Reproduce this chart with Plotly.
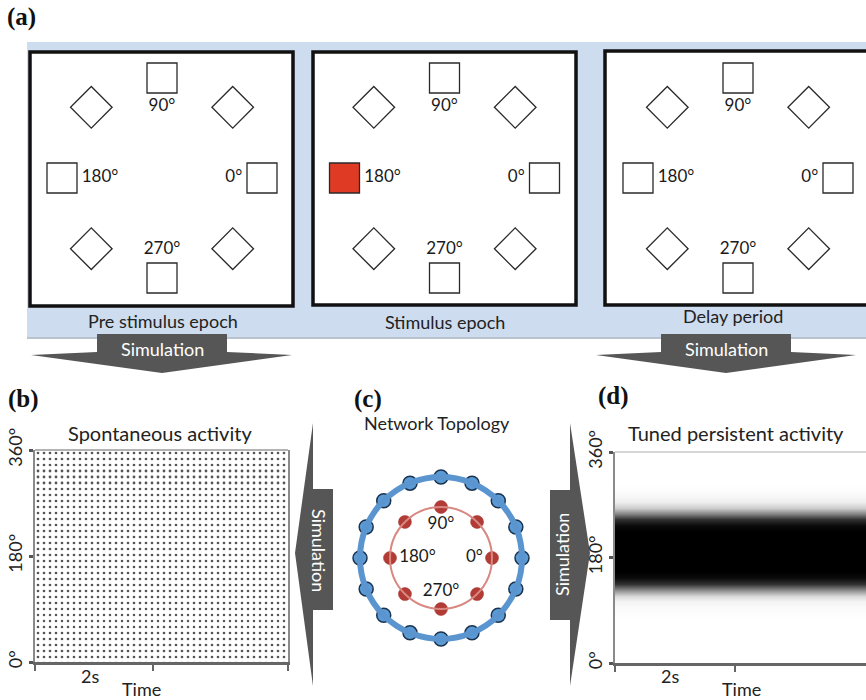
import plotly.graph_objects as go

# ---------------- data ----------------
target_angles = [0, 45, 90, 135, 180, 225, 270, 315]
target_symbols = ["square", "diamond", "square", "diamond", "square", "diamond", "square", "diamond"]
target_labels = ["0°", "", "90°", "", "180°", "", "270°", ""]
stimulus_angle = 180
epoch_titles = ["Pre stimulus epoch", "Stimulus epoch", "Delay period"]

outer_node_angles = [0, 22.5, 45, 67.5, 90, 112.5, 135, 157.5, 180, 202.5, 225, 247.5, 270, 292.5, 315, 337.5]
inner_node_angles = [0, 45, 90, 135, 180, 225, 270, 315]
inner_node_labels = ["0°", "", "90°", "", "180°", "", "270°", ""]

# raster densities (fraction of neurons firing per angle bin)
spont_bin_centers = [15, 45, 75, 105, 135, 165, 195, 225, 255, 285, 315, 345]
spont_density = [0.16, 0.15, 0.14, 0.15, 0.16, 0.15, 0.16, 0.16, 0.15, 0.16, 0.17, 0.16]

persist_bin_centers = list(range(5, 360, 10))
persist_density = [0, 0, 0, 0, 0, 0, 0, 0, 0.01, 0.02,
                   0.05, 0.15, 0.45, 0.8, 0.95, 1, 1, 1, 1, 1,
                   1, 1, 1, 0.95, 0.8, 0.5, 0.2, 0.07, 0.03, 0.01,
                   0, 0, 0, 0, 0, 0]
time_span_b = [0, 4.29]
time_span_d = [0, 4.18]
y_tick_vals = [0, 180, 360]
y_tick_text = ["0°", "180°", "360°"]
x_tick_vals_b = [0, 2, 4.29]
x_tick_vals_d = [0, 2]

# ---------------- helpers ----------------
W, H = 866, 700
def fx(x):
    return x / W
def fy(y):
    return 1 - y / H

FONT = "Lato, 'Open Sans', sans-serif"
SERIF = "'Liberation Serif', 'DejaVu Serif', serif"

fig = go.Figure()
shapes = []
annotations = []

def rect(x0, y0, x1, y1, fill, lc=None, lw=0, layer="below"):
    shapes.append(dict(type="rect", xref="paper", yref="paper",
                       x0=fx(x0), x1=fx(x1), y0=fy(y1), y1=fy(y0),
                       fillcolor=fill, line=dict(color=lc or fill, width=lw), layer=layer))

def path(points, fill, layer="below"):
    d = "M " + " L ".join(f"{fx(x):.5f},{fy(y):.5f}" for x, y in points) + " Z"
    shapes.append(dict(type="path", xref="paper", yref="paper", path=d,
                       fillcolor=fill, line=dict(width=0), layer=layer))

def text(x, y, s, size=16, color="#222", font=FONT, angle=0):
    annotations.append(dict(x=fx(x), y=fy(y), xref="paper", yref="paper", text=s,
                            showarrow=False, textangle=angle,
                            font=dict(size=size, color=color, family=font),
                            xanchor="center", yanchor="middle"))

# ---------------- panel (a) ----------------
rect(27, 42, 880, 337, "#cddcee")
rect(27, 337, 880, 339, "#b9c3cd")
boxes = [(30, 52, 293, 306), (313, 52, 576, 305), (605, 51, 880, 305)]
for b in boxes:
    rect(*b, "white", "#111", 3.5)

centers = [(162, 178), (444.5, 178), (738, 178)]
R = 100
label_pos = {"0°": "middle left", "90°": "bottom center", "180°": "middle right", "270°": "top center", "": "middle center"}
for i, (cx, cy) in enumerate(centers):
    name = "polar" if i == 0 else f"polar{i+1}"
    fig.add_trace(go.Scatterpolar(
        r=[1] * len(target_angles), theta=target_angles, mode="markers+text",
        marker=dict(symbol=target_symbols,
                    size=[30 if s == "square" else 32 for s in target_symbols],
                    color=["#df3b24" if (i == 1 and a == stimulus_angle) else "white" for a in target_angles],
                    opacity=1,
                    line=dict(color="#2a2a2a", width=1.3)),
        text=target_labels, textposition=[label_pos[l] for l in target_labels],
        textfont=dict(size=17, color="#1a1a1a", family=FONT),
        cliponaxis=False, showlegend=False, hoverinfo="skip", subplot=name))
    fig.update_layout(**{name: dict(
        domain=dict(x=[fx(cx - R), fx(cx + R)], y=[fy(cy + R), fy(cy - R)]),
        bgcolor="rgba(0,0,0,0)",
        radialaxis=dict(visible=False, range=[0, 1]),
        angularaxis=dict(visible=False))})

text(163, 321, epoch_titles[0], 18)
text(445, 322, epoch_titles[1], 18)
text(733, 316, epoch_titles[2], 18)

# down arrows "Simulation"
ARROW = "#565656"
for (r0, r1, w0, w1, ax) in [(97, 227, 31, 292, 162), (661, 791, 596, 856, 726)]:
    path([(r0, 334), (r1, 334), (r1, 352), (w1, 355), (ax, 373), (w0, 355), (r0, 352)], ARROW)
    text(ax, 349, "Simulation", 18, "white")

# ---------------- panel (b): spontaneous raster (dot texture by density) ----------------
fig.add_trace(go.Bar(
    orientation="h", y=spont_bin_centers, x=[time_span_b[1]] * len(spont_bin_centers),
    base=time_span_b[0], width=30,
    marker=dict(color="white", line=dict(width=0),
                pattern=dict(shape=".", fgcolor="#555555", bgcolor="white", size=6,
                             solidity=spont_density, fillmode="replace")),
    showlegend=False, hoverinfo="skip", xaxis="x", yaxis="y"))
# ---------------- panel (d): tuned persistent raster ----------------
fig.add_trace(go.Heatmap(
    z=[[d, d] for d in persist_density], x=time_span_d, y=persist_bin_centers,
    colorscale=[[0, "white"], [1, "black"]], zmin=0, zmax=1, zsmooth="best",
    showscale=False, hoverinfo="skip", xaxis="x2", yaxis="y2"))

yax = dict(range=[0, 360], tickvals=y_tick_vals, ticktext=y_tick_text, tickangle=-90,
           tickfont=dict(size=18, color="#222", family=FONT), ticks="outside", ticklen=4,
           tickwidth=3, tickcolor="#555", showline=True, linecolor="#8a8a8a", linewidth=2,
           showgrid=False, zeroline=False, fixedrange=True, automargin=False)
xax = dict(showline=True, linecolor="#666", linewidth=3, ticks="outside", ticklen=6,
           tickwidth=2, tickcolor="#666", showticklabels=False, showgrid=False,
           zeroline=False, fixedrange=True, automargin=False)
fig.update_layout(
    xaxis=dict(xax, domain=[fx(35), fx(288)], range=time_span_b, tickvals=x_tick_vals_b, anchor="y"),
    yaxis=dict(yax, domain=[fy(662), fy(450)], anchor="x", mirror=True),
    xaxis2=dict(xax, domain=[fx(615), 1.0], range=time_span_d, tickvals=x_tick_vals_d, anchor="y2"),
    yaxis2=dict(yax, domain=[fy(663), fy(452)], anchor="x2"),
    bargap=0,
)
# top frame lines
shapes.append(dict(type="line", xref="paper", yref="paper", x0=fx(35), x1=fx(288), y0=fy(450), y1=fy(450),
                   line=dict(color="#9a9a9a", width=1.5), layer="above"))
shapes.append(dict(type="line", xref="paper", yref="paper", x0=fx(615), x1=1.0, y0=fy(452), y1=fy(452),
                   line=dict(color="#c8c8c8", width=1.5), layer="above"))

text(160, 433, "Spontaneous activity", 20)
text(90, 676, "2s", 18)
text(141, 689, "Time", 18)
text(736, 433, "Tuned persistent activity", 20)
text(670, 676, "2s", 18)
text(741, 689, "Time", 18)

# side arrows
path([(333, 489), (333, 610), (313, 610), (313, 686), (295, 553), (313, 423), (313, 489)], ARROW)
text(319, 550, "Simulation", 18, "white", angle=90)
path([(550, 490), (550, 620), (570, 620), (570, 686), (590, 553), (570, 423), (570, 490)], ARROW)
text(562, 555, "Simulation", 18, "white", angle=-90)

# ---------------- panel (c) ----------------
ccx, ccy = 441, 558
R_out, R_in = 81, 51
fig.add_trace(go.Scatterpolar(
    r=[1] * len(outer_node_angles), theta=outer_node_angles, mode="markers",
    marker=dict(size=14, color="#5b9bd5", line=dict(color="#1c3350", width=1.5)),
    cliponaxis=False, showlegend=False, hoverinfo="skip", subplot="polar4"))
fig.add_trace(go.Scatterpolar(
    r=[1] * len(inner_node_angles), theta=inner_node_angles, mode="markers+text",
    marker=dict(size=13, color="#b23b35", line=dict(color="#a0302b", width=0.5)),
    text=inner_node_labels, textposition=[label_pos[l] for l in inner_node_labels],
    textfont=dict(size=17, color="#1a1a1a", family=FONT),
    cliponaxis=False, showlegend=False, hoverinfo="skip", subplot="polar5"))
fig.update_layout(
    polar4=dict(domain=dict(x=[fx(ccx - R_out), fx(ccx + R_out)], y=[fy(ccy + R_out), fy(ccy - R_out)]),
                bgcolor="rgba(0,0,0,0)", radialaxis=dict(visible=False, range=[0, 1]),
                angularaxis=dict(showline=True, linecolor="#5b95d0", linewidth=6,
                                 showticklabels=False, ticks="", showgrid=False)),
    polar5=dict(domain=dict(x=[fx(ccx - R_in), fx(ccx + R_in)], y=[fy(ccy + R_in), fy(ccy - R_in)]),
                bgcolor="rgba(0,0,0,0)", radialaxis=dict(visible=False, range=[0, 1]),
                angularaxis=dict(showline=True, linecolor="#d88781", linewidth=2,
                                 showticklabels=False, ticks="", showgrid=False)),
)
text(437, 423, "Network Topology", 18)

# panel letters
text(21, 17, "<b>(a)</b>", 25, "#111", SERIF)
text(23, 399, "<b>(b)</b>", 25, "#111", SERIF)
text(368, 399, "<b>(c)</b>", 25, "#111", SERIF)
text(613, 396, "<b>(d)</b>", 25, "#111", SERIF)

fig.update_layout(width=W, height=H, margin=dict(l=0, r=0, t=0, b=0, autoexpand=False),
                  paper_bgcolor="white", plot_bgcolor="rgba(0,0,0,0)",
                  shapes=shapes, annotations=annotations, showlegend=False)
fig.write_html("out.html", config={"displayModeBar": False},
               post_script="document.body.style.margin='0px';document.body.style.overflow='hidden';")
